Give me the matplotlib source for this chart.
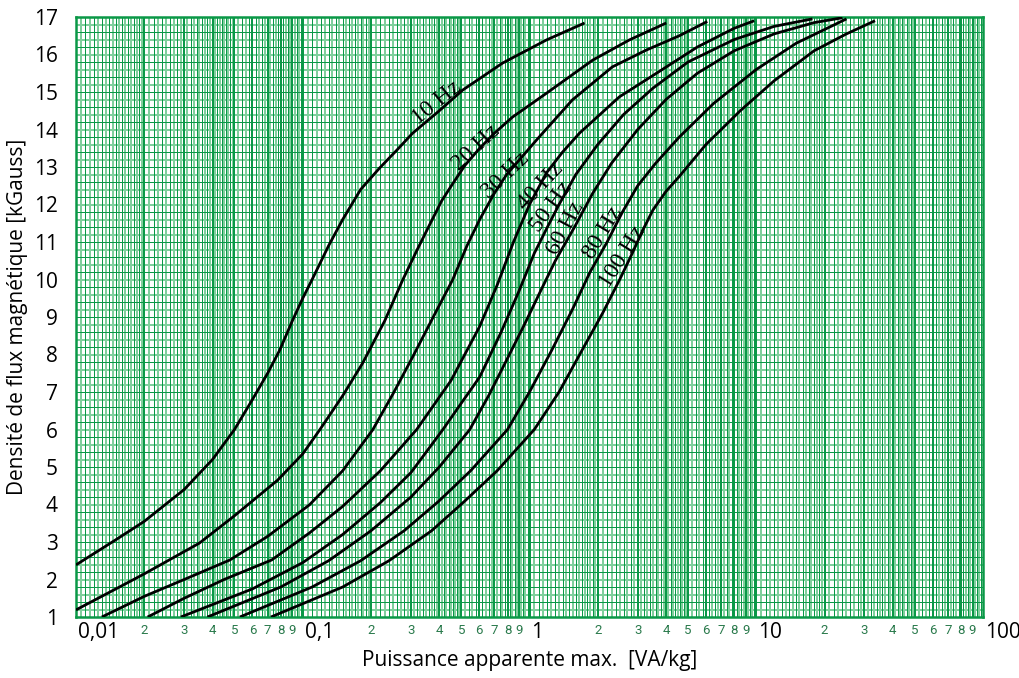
import numpy as np
import matplotlib
matplotlib.use("Agg")
import matplotlib.pyplot as plt
from matplotlib.collections import LineCollection

# Curves: apparent power [VA/kg] vs peak flux density [kGauss], per frequency
freqs = ["10 Hz", "20 Hz", "30 Hz", "40 Hz", "50 Hz", "60 Hz", "80 Hz", "100 Hz"]

p_10 = [0.01, 0.0149, 0.02, 0.03, 0.04, 0.05, 0.06, 0.07, 0.0792, 0.09, 0.1, 0.11, 0.13, 0.15, 0.18,
        0.218, 0.26, 0.305, 0.4, 0.507, 0.76, 1.19, 1.75]
b_10 = [2.39, 3.05, 3.55, 4.4, 5.2, 6.0, 6.8, 7.5, 8.12, 8.9, 9.5, 10.0, 10.9, 11.6, 12.4,
        12.97, 13.45, 13.9, 14.5, 15.05, 15.77, 16.39, 16.84]

p_20 = [0.01, 0.015, 0.02, 0.035, 0.05, 0.0775, 0.1, 0.1188, 0.15, 0.1837, 0.23, 0.276, 0.32, 0.362,
        0.41, 0.458, 0.52, 0.603, 0.7, 0.841, 1.19, 1.9, 2.76, 4.01]
b_20 = [1.19, 1.75, 2.15, 2.97, 3.7, 4.65, 5.35, 5.99, 6.9, 7.77, 8.9, 9.99, 10.8, 11.45,
        12.1, 12.55, 13.05, 13.5, 13.9, 14.33, 14.97, 15.85, 16.39, 16.84]

p_30 = [0.013, 0.02, 0.03, 0.0477, 0.07, 0.107, 0.15, 0.2034, 0.25, 0.305, 0.38, 0.458, 0.53,
        0.603, 0.7, 0.793, 1.074, 1.546, 2.32, 3.28, 4.58, 6.08]
b_30 = [1.0, 1.55, 2.0, 2.52, 3.15, 3.99, 4.9, 5.99, 6.95, 7.93, 9.05, 9.99, 10.9,
        11.6, 12.3, 12.8, 13.72, 14.79, 15.67, 16.12, 16.5, 16.88]

p_40 = [0.0207, 0.03, 0.045, 0.0729, 0.107, 0.15, 0.22, 0.318, 0.45, 0.603, 0.72, 0.85, 1.0,
        1.19, 1.4, 1.66, 2.49, 3.74, 5.5, 8.0, 9.8]
b_40 = [1.0, 1.5, 2.0, 2.52, 3.24, 3.95, 4.9, 6.0, 7.3, 8.75, 9.85, 11.0, 12.0,
        12.85, 13.4, 13.9, 14.87, 15.55, 16.2, 16.7, 16.9]

p_50 = [0.029, 0.06, 0.1, 0.15, 0.22, 0.3, 0.414, 0.5, 0.603, 0.75, 0.9, 1.05, 1.2, 1.35, 1.6,
        2.0, 2.6, 3.5, 5.0, 8.0, 12.0, 17.7]
b_50 = [1.0, 1.75, 2.45, 3.2, 4.05, 4.85, 5.99, 6.7, 7.4, 8.6, 9.7, 10.7, 11.4, 12.0, 12.8,
        13.6, 14.4, 15.1, 15.8, 16.4, 16.75, 16.95]

p_60 = [0.038, 0.08, 0.13, 0.2, 0.3, 0.4, 0.544, 0.66, 0.8, 0.95, 1.1, 1.3, 1.58, 1.9, 2.3,
        3.0, 4.0, 5.5, 8.0, 12.0, 18.0, 24.0]
b_60 = [1.0, 1.8, 2.5, 3.3, 4.2, 5.0, 5.99, 6.9, 7.9, 8.8, 9.6, 10.5, 11.4, 12.3, 13.1,
        14.0, 14.8, 15.5, 16.1, 16.55, 16.85, 16.98]

p_80 = [0.0528, 0.11, 0.18, 0.28, 0.4, 0.55, 0.8, 1.0, 1.25, 1.546, 1.85, 2.2, 2.57, 3.0, 3.6,
        4.58, 6.5, 10.0, 15.0, 25.0]
b_80 = [1.0, 1.8, 2.5, 3.3, 4.1, 4.9, 6.0, 7.0, 8.1, 9.2, 10.2, 11.0, 11.8, 12.5, 13.1,
        13.8, 14.7, 15.6, 16.3, 16.95]

p_100 = [0.0724, 0.15, 0.24, 0.37, 0.52, 0.72, 1.05, 1.35, 1.7, 2.1, 2.5, 2.84, 3.15, 3.5, 4.0,
         4.58, 6.0, 8.5, 12.0, 18.0, 25.0, 33.4]
b_100 = [1.0, 1.8, 2.5, 3.3, 4.1, 4.9, 6.0, 7.0, 8.1, 9.1, 10.0, 10.7, 11.3, 11.85, 12.35,
         12.75, 13.6, 14.5, 15.3, 16.1, 16.55, 16.9]

curves = [(p_10, b_10), (p_20, b_20), (p_30, b_30), (p_40, b_40),
          (p_50, b_50), (p_60, b_60), (p_80, b_80), (p_100, b_100)]

# centre (P, B) and angle of each frequency label
label_pos = [(0.389, 14.71), (0.584, 13.51), (0.783, 12.79), (1.118, 12.49),
             (1.25, 11.93), (1.44, 11.37), (2.10, 11.24), (2.57, 10.6)]
label_rot = [39, 43, 44, 47, 54, 62, 59, 58]

y_ticks = list(range(1, 18))
major_x = [0.01, 0.1, 1, 10, 100]
major_x_labels = ["0,01", "0,1", "1", "10", "100"]

GRID_DARK = "#0a9847"
GRID_LIGHT = "#80cf9d"

fig = plt.figure(figsize=(10.19, 6.78), dpi=100)
ax = fig.add_axes([76 / 1019, 1 - 617 / 678, (983 - 76) / 1019, (617 - 17) / 678])
ax.set_xscale("log")
ax.set_xlim(0.01, 100)
ax.set_ylim(1, 17)

# log-paper grid
dark_x, light_x, unit_x = [], [], []
for dec in [0.01, 0.1, 1, 10]:
    for lo, hi, step in [(1, 2, 0.05), (2, 5, 0.1), (5, 10, 0.2)]:
        vals = np.arange(lo, hi - 1e-9, step)
        for k, v in enumerate(vals):
            if abs(v - round(v)) < 1e-9:
                unit_x.append(v * dec)
            else:
                (dark_x if k % 2 == 0 else light_x).append(v * dec)

dark_y, light_y = [], []
for k, y in enumerate(np.arange(1, 17.001, 0.2)):
    (dark_y if k % 2 == 0 else light_y).append(y)

xf = ax.get_xaxis_transform()
yf = ax.get_yaxis_transform()


def grid_lines(vals, vertical, color, width, z):
    if vertical:
        segs = [[(v, 0), (v, 1)] for v in vals]
        tr = xf
    else:
        segs = [[(0, v), (1, v)] for v in vals]
        tr = yf
    ax.add_collection(LineCollection(segs, transform=tr, colors=color, linewidths=width,
                                     antialiaseds=False, zorder=z))


grid_lines(light_x, True, GRID_LIGHT, 1.44, 1)
grid_lines(light_y, False, GRID_LIGHT, 1.44, 1)
grid_lines(dark_x, True, GRID_DARK, 0.72, 2)
grid_lines(dark_y, False, GRID_DARK, 0.72, 2)
grid_lines(unit_x, True, GRID_DARK, 1.44, 2)

for p, b in curves:
    ax.plot(p, b, color="black", lw=2.0, zorder=3, solid_capstyle="butt", solid_joinstyle="round")

for name, (lx, ly), rot in zip(freqs, label_pos, label_rot):
    ax.text(lx, ly, name, rotation=rot, rotation_mode="anchor", ha="center", va="center",
            fontsize=17, family="Liberation Serif", color="black", zorder=4)

for s in ax.spines.values():
    s.set_color(GRID_DARK)
    s.set_linewidth(1.8)

ax.set_yticks(y_ticks)
ax.set_yticklabels([str(v) for v in y_ticks], fontsize=15, family="Open Sans")
ax.tick_params(axis="y", length=0, pad=13)
ax.set_xticks([])
ax.set_xticks([], minor=True)

# x tick labels: decades in black, in-decade digits in green
for x, lab in zip(major_x, major_x_labels):
    ax.text(x * 1.02, -0.008, lab, transform=xf, ha="left", va="top",
            fontsize=15, family="Open Sans", color="black")
for dec in [0.01, 0.1, 1, 10]:
    for d in range(2, 10):
        ax.text(d * dec, -0.012, str(d), transform=xf, ha="center", va="top",
                fontsize=9.5, family="Roboto", color="#2a7a4c")

ax.set_xlabel("Puissance apparente max.  [VA/kg]", fontsize=15, family="Open Sans", labelpad=24)
ax.set_ylabel("Densité de flux magnétique [kGauss]", fontsize=15, family="Open Sans", labelpad=4)

fig.savefig("out.png", dpi=100)
